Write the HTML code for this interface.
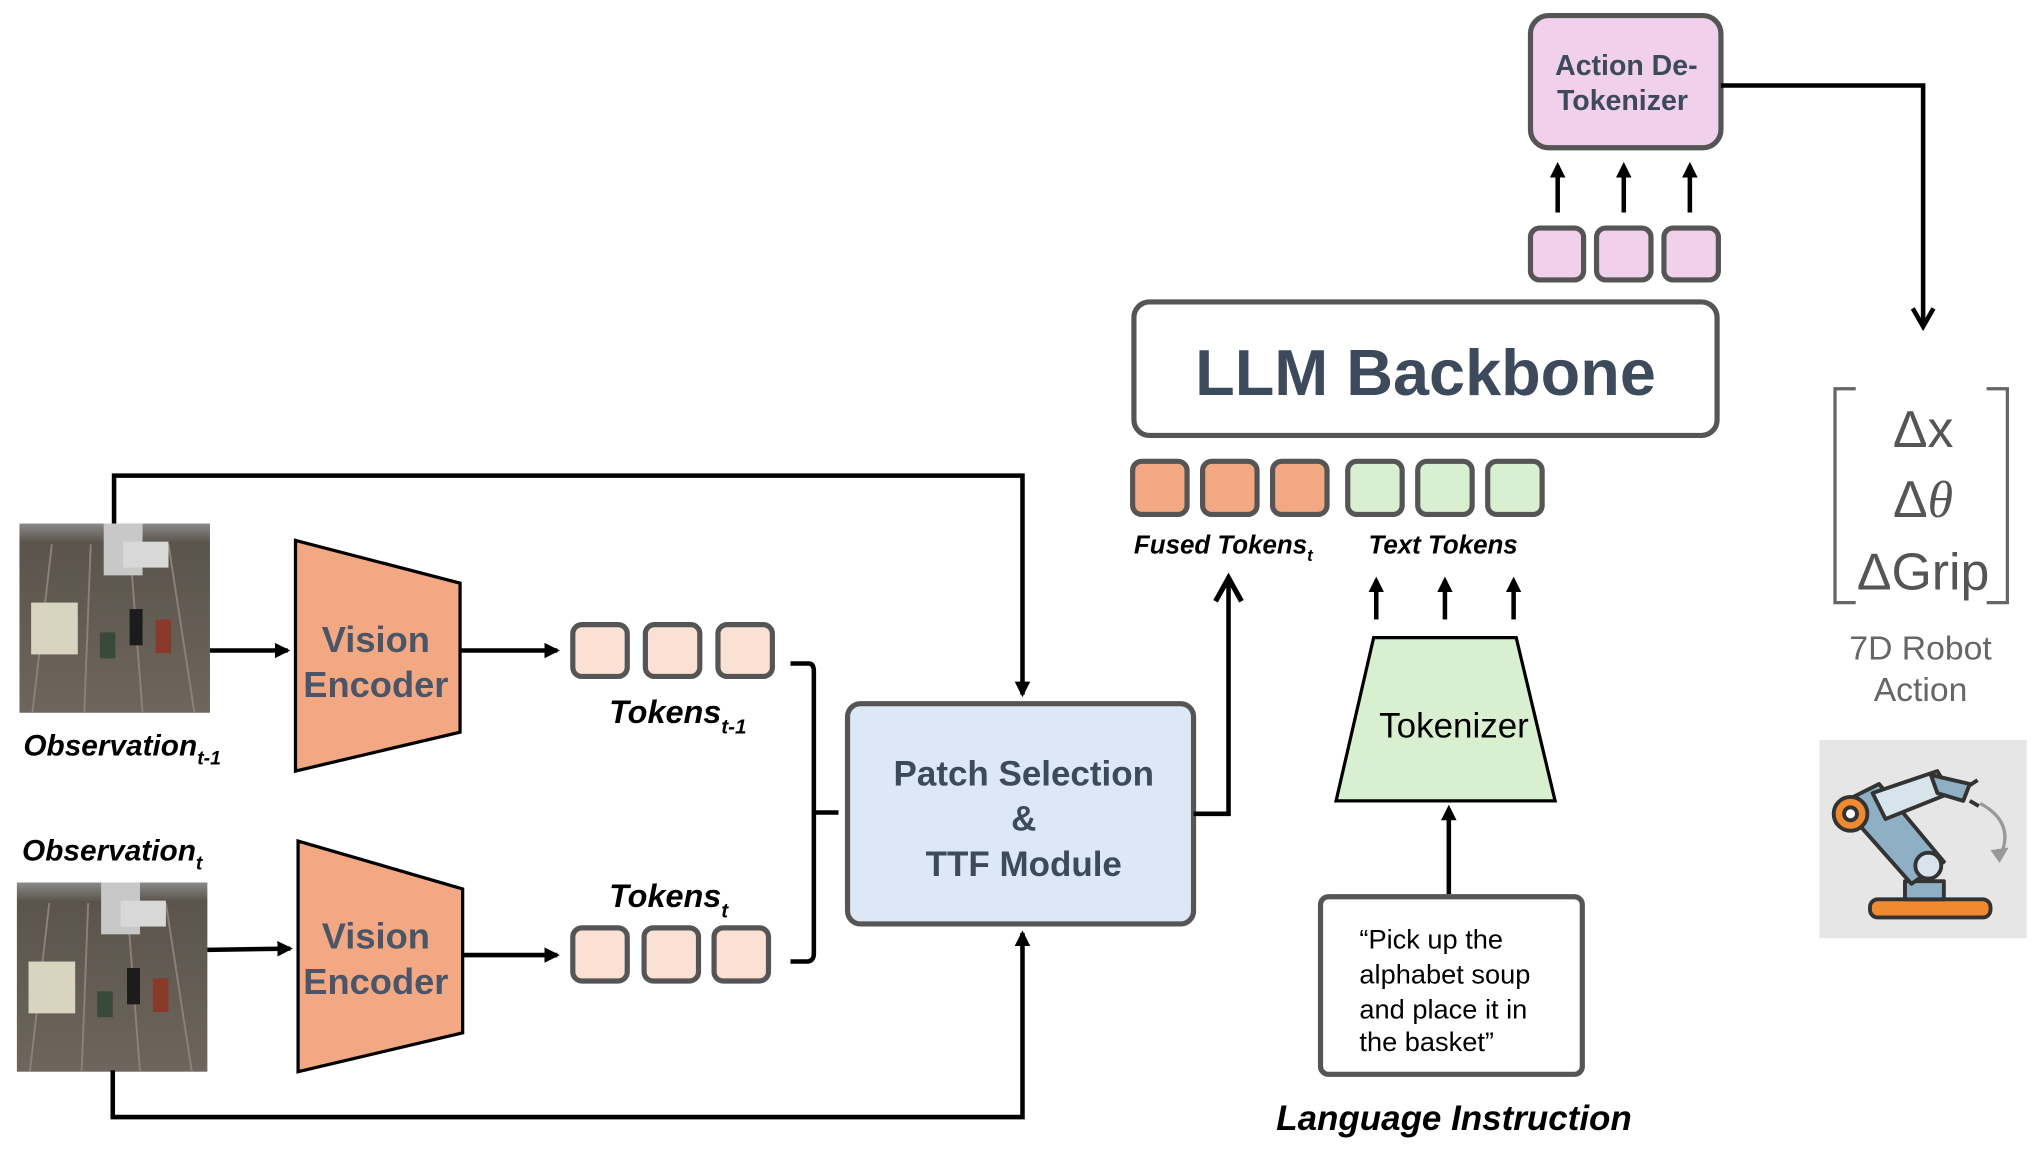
<!DOCTYPE html>
<html><head><meta charset="utf-8"><style>
html,body{margin:0;padding:0;background:#fff;width:2032px;height:1158px;overflow:hidden}
svg{display:block}
text{font-family:"Liberation Sans",sans-serif}
</style></head><body>
<svg width="2032" height="1158" viewBox="0 0 1568 893.6" xmlns="http://www.w3.org/2000/svg">
<defs>
<marker id="ah" markerWidth="12" markerHeight="12" refX="9" refY="6" orient="auto" markerUnits="userSpaceOnUse">
<path d="M0,0 L12,6 L0,12 Z" fill="#000"/></marker>
<marker id="ah2" markerWidth="12" markerHeight="12" refX="10" refY="6" orient="auto" markerUnits="userSpaceOnUse">
<path d="M0,0 L12,6 L0,12 Z" fill="#000"/></marker>
<linearGradient id="floor" x1="0" y1="0" x2="0" y2="1">
<stop offset="0" stop-color="#8a8a8a"/><stop offset="0.1" stop-color="#5a544c"/><stop offset="1" stop-color="#6e665c"/></linearGradient>
</defs>

<g id="obs">
<rect x="15" y="404" width="147" height="146" fill="url(#floor)"/>
<path d="M40,420 L25,550 M70,420 L65,550 M100,420 L110,550 M130,420 L150,550" stroke="#8a8278" stroke-width="1.5"/>
<rect x="80" y="404" width="30" height="40" fill="#c8c8c8"/>
<rect x="95" y="418" width="35" height="20" fill="#d8d8d8"/>
<rect x="24" y="465" width="36" height="40" fill="#d8d4c0"/>
<rect x="100" y="470" width="10" height="28" fill="#1c1c1c"/>
<rect x="120" y="478" width="12" height="26" fill="#8a3a2a"/>
<rect x="77" y="488" width="12" height="20" fill="#3a4a3a"/>
</g>
<g transform="translate(-2,277)">
<rect x="15" y="404" width="147" height="146" fill="url(#floor)"/>
<path d="M40,420 L25,550 M70,420 L65,550 M100,420 L110,550 M130,420 L150,550" stroke="#8a8278" stroke-width="1.5"/>
<rect x="80" y="404" width="30" height="40" fill="#c8c8c8"/>
<rect x="95" y="418" width="35" height="20" fill="#d8d8d8"/>
<rect x="24" y="465" width="36" height="40" fill="#d8d4c0"/>
<rect x="100" y="470" width="10" height="28" fill="#1c1c1c"/>
<rect x="120" y="478" width="12" height="26" fill="#8a3a2a"/>
<rect x="77" y="488" width="12" height="20" fill="#3a4a3a"/>
</g>

<path d="M88,404 V367 H789 V536" fill="none" stroke="#000" stroke-width="3.5" marker-end="url(#ah2)"/>
<path d="M87,826 V862 H789 V720" fill="none" stroke="#000" stroke-width="3.5" marker-end="url(#ah2)"/>

<polygon points="228,417 355,450 355,565 228,595" fill="#f2a882" stroke="#000" stroke-width="2.5"/>
<polygon points="230,649 357,686 357,797 230,827" fill="#f2a882" stroke="#000" stroke-width="2.5"/>
<g font-weight="bold" font-size="28" fill="#4a5568" text-anchor="middle">
<text x="290" y="503">Vision</text><text x="290" y="538">Encoder</text>
<text x="290" y="732">Vision</text><text x="290" y="767">Encoder</text>
</g>

<g stroke="#000" stroke-width="3.5" fill="none">
<line x1="162" y1="502" x2="222" y2="502" marker-end="url(#ah2)"/>
<line x1="355" y1="502" x2="430" y2="502" marker-end="url(#ah2)"/>
<line x1="160" y1="733" x2="224" y2="732" marker-end="url(#ah2)"/>
<line x1="357" y1="737" x2="430" y2="737" marker-end="url(#ah2)"/>
</g>

<g fill="#fbe0d4" stroke="#555" stroke-width="4">
<rect x="442" y="482" width="42" height="40" rx="7"/><rect x="498" y="482" width="42" height="40" rx="7"/><rect x="554" y="482" width="42" height="40" rx="7"/>
<rect x="442" y="716" width="42" height="41" rx="7"/><rect x="497" y="716" width="42" height="41" rx="7"/><rect x="551" y="716" width="42" height="41" rx="7"/>
</g>

<path d="M610,512 H624 Q628,512 628,518 V736 Q628,742 622,742 H610 M628,627 H647" fill="none" stroke="#000" stroke-width="3.5"/>

<g font-weight="bold" font-style="italic" fill="#000">
<text x="18" y="583" font-size="23">Observation<tspan font-size="15" dy="7">t-1</tspan></text>
<text x="17" y="664" font-size="23">Observation<tspan font-size="15" dy="7">t</tspan></text>
<text x="470" y="558" font-size="25">Tokens<tspan font-size="16" dy="8">t-1</tspan></text>
<text x="470" y="700" font-size="25">Tokens<tspan font-size="16" dy="8">t</tspan></text>
</g>

<rect x="654" y="543" width="267" height="170" rx="10" fill="#dce8f5" stroke="#555" stroke-width="4"/>
<g font-weight="bold" font-size="27" fill="#3d4a5c" text-anchor="middle">
<text x="790" y="606">Patch Selection</text><text x="790" y="641">&amp;</text><text x="790" y="676">TTF Module</text>
</g>
<path d="M921,628 H948 V450" fill="none" stroke="#000" stroke-width="3.5"/>
<path d="M938,464 L948,446 L958,464" fill="none" stroke="#000" stroke-width="4"/>

<rect x="875" y="233" width="450" height="103" rx="12" fill="#fff" stroke="#555" stroke-width="4"/>
<text x="1100" y="305" text-anchor="middle" font-weight="bold" font-size="50" fill="#3d4a5c">LLM Backbone</text>

<g stroke="#555" stroke-width="4">
<rect x="874" y="356" width="42" height="41" rx="7" fill="#f2a882"/><rect x="928" y="356" width="42" height="41" rx="7" fill="#f2a882"/><rect x="982" y="356" width="42" height="41" rx="7" fill="#f2a882"/>
<rect x="1040" y="356" width="42" height="41" rx="7" fill="#d8f0d0"/><rect x="1094" y="356" width="42" height="41" rx="7" fill="#d8f0d0"/><rect x="1148" y="356" width="42" height="41" rx="7" fill="#d8f0d0"/>
</g>
<g font-weight="bold" font-style="italic" font-size="20" fill="#000">
<text x="875" y="427">Fused Tokens<tspan font-size="13" dy="6">t</tspan></text>
<text x="1056" y="427">Text Tokens</text>
</g>
<g stroke="#000" stroke-width="3.5">
<line x1="1062" y1="478" x2="1062" y2="448" marker-end="url(#ah)"/>
<line x1="1115" y1="478" x2="1115" y2="448" marker-end="url(#ah)"/>
<line x1="1168" y1="478" x2="1168" y2="448" marker-end="url(#ah)"/>
</g>

<polygon points="1060,492 1170,492 1200,618 1031,618" fill="#d8f0d0" stroke="#000" stroke-width="2.5"/>
<text x="1122" y="569" text-anchor="middle" font-size="27" fill="#000">Tokenizer</text>
<line x1="1118" y1="690" x2="1118" y2="624" stroke="#000" stroke-width="3.5" marker-end="url(#ah)"/>

<rect x="1019" y="692" width="202" height="137" rx="6" fill="#fff" stroke="#555" stroke-width="4"/>
<g font-size="21" fill="#000">
<text x="1049" y="732">“Pick up the</text><text x="1049" y="759">alphabet soup</text><text x="1049" y="786">and place it in</text><text x="1049" y="811">the basket”</text>
</g>
<text x="1122" y="872" text-anchor="middle" font-weight="bold" font-style="italic" font-size="27">Language Instruction</text>

<g fill="#f0d0ea" stroke="#555" stroke-width="4">
<rect x="1181" y="176" width="41" height="40" rx="7"/><rect x="1232" y="176" width="42" height="40" rx="7"/><rect x="1284" y="176" width="42" height="40" rx="7"/>
</g>
<g stroke="#000" stroke-width="3.5">
<line x1="1202" y1="164" x2="1202" y2="128" marker-end="url(#ah)"/>
<line x1="1253" y1="164" x2="1253" y2="128" marker-end="url(#ah)"/>
<line x1="1304" y1="164" x2="1304" y2="128" marker-end="url(#ah)"/>
</g>
<rect x="1181" y="12" width="147" height="102" rx="14" fill="#f0d0ea" stroke="#555" stroke-width="4"/>
<g font-weight="bold" font-size="22" fill="#3d4a5c" text-anchor="middle">
<text x="1255" y="58">Action De-</text><text x="1252" y="85">Tokenizer</text>
</g>
<path d="M1328,66 H1484 V252" fill="none" stroke="#000" stroke-width="3.5"/>
<path d="M1476,238 L1484,252 L1492,238" fill="none" stroke="#000" stroke-width="3.5"/>

<path d="M1432,300 H1416 V465 H1432 M1533,300 H1549 V465 H1533" fill="none" stroke="#666" stroke-width="2.5"/>
<g font-size="40" fill="#555" text-anchor="middle">
<text x="1484" y="345">Δx</text>
<text x="1484" y="399">Δ<tspan font-family="Liberation Serif" font-style="italic">θ</tspan></text>
<text x="1484" y="455">ΔGrip</text>
</g>
<g font-size="26" fill="#666" text-anchor="middle">
<text x="1482" y="509">7D Robot</text><text x="1482" y="541">Action</text>
</g>

<rect x="1404" y="571" width="160" height="153" fill="#e6e6e6"/>
<g stroke="#333" stroke-width="3" stroke-linejoin="round">
<rect x="1443" y="694" width="93" height="14" rx="6" fill="#f08a30"/>
<path d="M1470,694 L1470,680 L1500,680 L1500,694 Z" fill="#8fb0c4"/>
<path d="M1420,620 L1450,605 L1500,665 L1475,682 Z" fill="#8fb0c4"/>
<path d="M1445,612 L1495,595 L1505,612 L1455,632 Z" fill="#d8e4ec"/>
<path d="M1490,598 L1520,605 L1515,618 L1495,612 Z" fill="#8fb0c4"/>
<circle cx="1428" cy="628" r="13" fill="#f08a30"/><circle cx="1428" cy="628" r="5" fill="#fff"/>
<circle cx="1488" cy="668" r="10" fill="#d8e4ec"/>
<path d="M1520,606 L1526,602 M1520,618 L1527,622" fill="none"/>
</g>
<path d="M1528,620 Q1556,635 1543,662" fill="none" stroke="#999" stroke-width="2.5"/>
<path d="M1536,656 L1543,666 L1550,654" fill="#999"/>
</svg>
</body></html>
